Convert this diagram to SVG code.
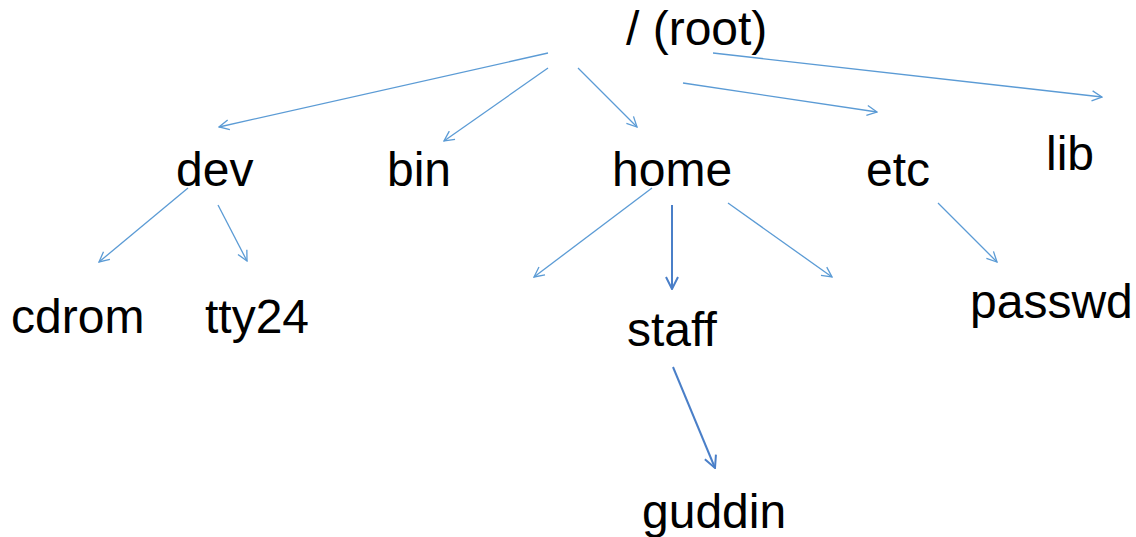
<svg xmlns="http://www.w3.org/2000/svg" width="1136" height="537" viewBox="0 0 1136 537">
  <defs>
    <marker id="head-light" viewBox="0 0 12 12" refX="11" refY="6" markerWidth="12" markerHeight="12" markerUnits="userSpaceOnUse" orient="auto">
      <path d="M1,1 L11,6 L1,11" fill="none" stroke="#5b9bd5" stroke-width="1.3"/>
    </marker>
    <marker id="head-dark" viewBox="0 0 14 14" refX="13" refY="7" markerWidth="14" markerHeight="14" markerUnits="userSpaceOnUse" orient="auto">
      <path d="M1,1 L13,7 L1,13" fill="none" stroke="#4a7fc8" stroke-width="2"/>
    </marker>
    <style>
      .label { font-family: "Liberation Sans", Arial, sans-serif; font-size: 48px; fill: #000000; }
      .link { fill: none; stroke: #5b9bd5; stroke-width: 1.3; marker-end: url(#head-light); }
      .link-strong { fill: none; stroke: #4a7fc8; stroke-width: 2; marker-end: url(#head-dark); }
    </style>
  </defs>
  <rect width="1136" height="537" fill="#ffffff"/>

  <g id="connectors">
    <line class="link" x1="548" y1="53" x2="219" y2="127"/>
    <line class="link" x1="548" y1="68" x2="444" y2="141"/>
    <line class="link" x1="578" y1="68" x2="637" y2="127"/>
    <line class="link" x1="683" y1="83" x2="877" y2="112"/>
    <line class="link" x1="713" y1="53" x2="1102" y2="97"/>
    <line class="link" x1="188" y1="188" x2="99" y2="262"/>
    <line class="link" x1="218" y1="205" x2="247" y2="261"/>
    <line class="link" x1="652" y1="188" x2="534" y2="277"/>
    <line class="link-strong" x1="672" y1="205" x2="672" y2="289"/>
    <line class="link" x1="728" y1="203" x2="832" y2="277"/>
    <line class="link-strong" x1="673" y1="367" x2="715" y2="468"/>
    <line class="link" x1="938" y1="203" x2="997" y2="262"/>
  </g>

  <g id="node-root"><text class="label" x="626" y="45">/ (root)</text></g>
  <g id="node-dev"><text class="label" x="176" y="186">dev</text></g>
  <g id="node-bin"><text class="label" x="387" y="186">bin</text></g>
  <g id="node-home"><text class="label" x="612" y="186">home</text></g>
  <g id="node-etc"><text class="label" x="866" y="186">etc</text></g>
  <g id="node-lib"><text class="label" x="1046" y="170">lib</text></g>
  <g id="node-cdrom"><text class="label" x="11" y="333">cdrom</text></g>
  <g id="node-tty24"><text class="label" x="205" y="333">tty24</text></g>
  <g id="node-staff"><text class="label" x="627" y="346">staff</text></g>
  <g id="node-passwd"><text class="label" x="970" y="318">passwd</text></g>
  <g id="node-guddin"><text class="label" x="642" y="528">guddin</text></g>
</svg>
